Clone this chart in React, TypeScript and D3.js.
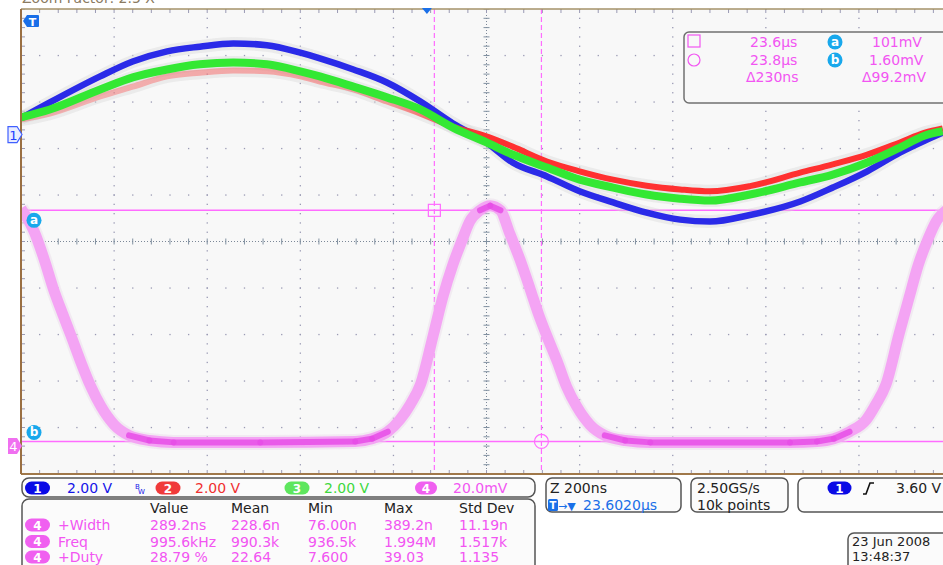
import React from 'react';
import * as d3 from 'd3';

// ---- data (screen divisions: time 0..10 at 200 ns/div, level -5..5) ----
const traceTimeDiv = [0, 0.31, 0.85, 1.2, 1.57, 1.92, 2.28, 2.64, 3.0, 3.21, 3.57, 3.93, 4.29, 4.64, 5.0, 5.28, 5.65, 6.0, 6.36, 6.72, 7.08, 7.4, 7.83, 8.37, 8.72, 9.09, 9.44, 9.71, 9.9];
const ch1Div = [2.65, 2.99, 3.55, 3.87, 4.09, 4.19, 4.26, 4.22, 4.06, 3.94, 3.7, 3.42, 3.01, 2.54, 2.13, 1.7, 1.4, 1.08, 0.84, 0.62, 0.47, 0.43, 0.57, 0.86, 1.16, 1.51, 1.91, 2.17, 2.34];
const ch2Div = [2.62, 2.75, 3.12, 3.33, 3.55, 3.63, 3.68, 3.66, 3.55, 3.44, 3.27, 3.01, 2.75, 2.47, 2.26, 2.04, 1.72, 1.51, 1.33, 1.2, 1.12, 1.08, 1.19, 1.48, 1.66, 1.87, 2.13, 2.34, 2.43];
const ch3Div = [2.67, 2.84, 3.27, 3.53, 3.7, 3.81, 3.85, 3.81, 3.66, 3.55, 3.33, 3.1, 2.84, 2.45, 2.13, 1.87, 1.59, 1.33, 1.16, 1.01, 0.92, 0.88, 1.01, 1.27, 1.44, 1.7, 2.02, 2.28, 2.37];
const ch4TimeDiv = [0, 0.14, 0.25, 0.35, 0.45, 0.54, 0.64, 0.75, 0.86, 1.0, 1.16, 1.38, 1.64, 2.57, 3.59, 3.77, 3.94, 4.07, 4.18, 4.29, 4.43, 4.53, 4.64, 4.74, 4.82, 4.93, 5.04, 5.15, 5.25, 5.36, 5.47, 5.56, 5.65, 5.76, 5.86, 5.97, 6.11, 6.27, 6.49, 6.76, 8.26, 8.55, 8.73, 8.9, 9.08, 9.18, 9.29, 9.43, 9.54, 9.64, 9.74, 9.83, 9.94];
const ch4Div = [0.71, 0.22, -0.39, -1.03, -1.57, -2.04, -2.58, -3.12, -3.55, -3.94, -4.17, -4.28, -4.32, -4.32, -4.3, -4.24, -4.09, -3.83, -3.51, -3.08, -2.0, -1.2, -0.49, 0.04, 0.43, 0.67, 0.77, 0.67, 0.17, -0.39, -1.03, -1.57, -2.04, -2.58, -3.12, -3.55, -3.94, -4.17, -4.28, -4.32, -4.32, -4.3, -4.24, -4.09, -3.83, -3.51, -3.08, -2.0, -1.2, -0.49, 0.04, 0.43, 0.67];

const cursorTimesDiv = [4.44, 5.59];
const cursorLevelsDiv = [0.67, -4.3];
const ch1GroundDiv = 2.3;
const ch4GroundDiv = -4.4;
const triggerPosDiv = 4.36;

const cursorTimeLabels = ['23.6µs', '23.8µs', 'Δ230ns'];
const cursorLevelLabels = ['101mV', '1.60mV', 'Δ99.2mV'];

const measHeaders = ['Value', 'Mean', 'Min', 'Max', 'Std Dev'];
const measNames = ['+Width', 'Freq', '+Duty'];
const measValue = ['289.2ns', '995.6kHz', '28.79 %'];
const measMean = ['228.6n', '990.3k', '22.64'];
const measMin = ['76.00n', '936.5k', '7.600'];
const measMax = ['389.2n', '1.994M', '39.03'];
const measStd = ['11.19n', '1.517k', '1.135'];

const chLabels = ['1', '2', '3', '4'];
const chScales = ['2.00 V', '2.00 V', '2.00 V', '20.0mV'];

const FONT = 'DejaVu Sans';
const MAG = '#f255f2';

export default function App() {
  const x = d3.scaleLinear().domain([0, 10]).range([21, 952]);
  const y = d3.scaleLinear().domain([-5, 5]).range([474, 9]);
  const line = d3
    .line<[number, number]>()
    .x((d) => x(d[0]))
    .y((d) => y(d[1]))
    .curve(d3.curveMonotoneX);

  const ch1 = traceTimeDiv.map((t, i) => [t, ch1Div[i]] as [number, number]);
  const ch2 = traceTimeDiv.map((t, i) => [t, ch2Div[i]] as [number, number]);
  const ch3 = traceTimeDiv.map((t, i) => [t, ch3Div[i]] as [number, number]);
  const ch4 = ch4TimeDiv.map((t, i) => [t, ch4Div[i]] as [number, number]);

  // flat parts of ch4 (drawn denser)
  const flatSegs: [number, number][][] = [];
  for (let i = 0; i < ch4.length - 1; i++) {
    const dx = x(ch4[i + 1][0]) - x(ch4[i][0]);
    const dy = y(ch4[i + 1][1]) - y(ch4[i][1]);
    if (Math.abs(dy / dx) < 0.6) flatSegs.push([ch4[i], ch4[i + 1]]);
  }
  const segLine = d3.line<[number, number]>().x((d) => x(d[0])).y((d) => y(d[1]));

  const minor = d3.range(0, 51).map((k) => k / 5);
  const dots: [number, number][] = [];
  for (let i = 0; i <= 10; i++) {
    if (i === 5) continue;
    minor.forEach((m) => dots.push([x(i), y(m - 5)]));
    minor.forEach((m) => dots.push([x(m), y(i - 5)]));
  }

  const x0 = x(0), x1 = x(10), yT = y(5), yB = y(-5), xc = x(5), yc = y(0);

  const colX = [150, 231, 308, 384, 459];
  const rowY = [530, 546.5, 562];
  const measCols = [measValue, measMean, measMin, measMax, measStd];

  const pill = (cx: number, cy: number, label: string, fill: string, w = 25) => (
    <g>
      <rect x={cx - w / 2} y={cy - 6.5} width={w} height={13} rx={6.5} fill={fill} />
      <text x={cx} y={cy + 4.5} textAnchor="middle" fill="#fff" fontSize={12} fontWeight="bold" fontFamily={FONT}>{label}</text>
    </g>
  );

  const chPill = [
    { px: 37.5, tx: 67, fill: '#0a0ae6', tc: '#1515e8' },
    { px: 168, tx: 195, fill: '#f03a3a', tc: '#f03030' },
    { px: 297, tx: 324, fill: '#5ee65e', tc: '#3ed83e' },
    { px: 426, tx: 453, fill: '#f060f0', tc: MAG },
  ];

  const cyanLabel = (cx: number, cy: number, t: string) => (
    <g>
      <circle cx={cx} cy={cy} r={7.5} fill="#18a8ec" />
      <text x={cx} y={cy + 4} textAnchor="middle" fill="#fff" fontSize={12} fontWeight="bold" fontFamily={FONT}>{t}</text>
    </g>
  );

  return (
    <svg width={943} height={565} style={{ position: 'absolute', left: 0, top: 0, background: '#fff' }} fontFamily={FONT}>
      <defs>
        <clipPath id="plot">
          <rect x={x0} y={yT} width={x1 - x0} height={yB - yT} />
        </clipPath>
        <linearGradient id="redfade" gradientUnits="userSpaceOnUse" x1={x0} x2={943} y1={0} y2={0}>
          <stop offset="0" stopColor="#ff3030" stopOpacity={0.3} />
          <stop offset="0.4" stopColor="#ff3030" stopOpacity={0.4} />
          <stop offset="0.5" stopColor="#ff3030" stopOpacity={1} />
          <stop offset="1" stopColor="#ff3030" stopOpacity={1} />
        </linearGradient>
      </defs>

      {/* cut-off title */}
      <text x={22} y={3} fontSize={14} fill="#8a7a60">Zoom Factor: 2.5 X</text>

      {/* plot background */}
      <rect x={x0} y={yT} width={x1 - x0} height={yB - yT} fill="#f8f8f8" />

      <g clipPath="url(#plot)">
        {/* grid dots */}
        {dots.map((d, i) => (
          <rect key={i} x={d[0] - 0.6} y={d[1] - 0.6} width={1.3} height={1.3} fill="#9a9ab4" />
        ))}
        {/* center lines */}
        <line x1={x0} x2={x1} y1={yc} y2={yc} stroke="#7c8898" strokeWidth={1} strokeDasharray="1,2" />
        <line x1={xc} x2={xc} y1={yT} y2={yB} stroke="#7c8898" strokeWidth={1} strokeDasharray="1,2" />
        {minor.map((m, i) => (
          <line key={'ht' + i} x1={x(m)} x2={x(m)} y1={yc - 3} y2={yc + 3} stroke="#8090a0" strokeWidth={1} />
        ))}
        {minor.map((m, i) => (
          <line key={'vt' + i} x1={xc - 3} x2={xc + 3} y1={y(m - 5)} y2={y(m - 5)} stroke="#8090a0" strokeWidth={1} />
        ))}
        {/* edge ticks */}
        {minor.map((m, i) => (
          <g key={'et' + i}>
            <line x1={x(m)} x2={x(m)} y1={yT} y2={yT + 4} stroke="#9a9ab4" strokeWidth={1} />
            <line x1={x(m)} x2={x(m)} y1={yB - 4} y2={yB} stroke="#9a9ab4" strokeWidth={1} />
            <line x1={x0} x2={x0 + 4} y1={y(m - 5)} y2={y(m - 5)} stroke="#9a9ab4" strokeWidth={1} />
          </g>
        ))}

        {/* cursors */}
        {cursorLevelsDiv.map((v, i) => (
          <line key={'cl' + i} x1={x0} x2={x1} y1={y(v)} y2={y(v)} stroke="#ff6cff" strokeWidth={1.5} />
        ))}
        {cursorTimesDiv.map((t, i) => (
          <line key={'ct' + i} x1={x(t)} x2={x(t)} y1={yT} y2={yB} stroke="#ff6cff" strokeWidth={1.2} strokeDasharray="5,3" />
        ))}

        {/* trace halos */}
        {[ch1, ch2, ch3].map((c, i) => (
          <path key={'h' + i} d={line(c) || ''} fill="none" stroke="#d8d8d8" strokeWidth={13} strokeOpacity={0.4} />
        ))}
        <path d={line(ch4) || ''} fill="none" stroke="#e8dae8" strokeWidth={15} strokeOpacity={0.45} />

        {/* traces */}
        <path d={line(ch1) || ''} fill="none" stroke="#2a2ae8" strokeWidth={6.5} />
        <path d={line(ch2) || ''} fill="none" stroke="url(#redfade)" strokeWidth={6} />
        <path d={line(ch3) || ''} fill="none" stroke="#33e833" strokeWidth={8} />
        <path d={line(ch4) || ''} fill="none" stroke="#f4a4f4" strokeWidth={11} />
        {flatSegs.map((s, i) => (
          <path key={'f' + i} d={segLine(s) || ''} fill="none" stroke="#e64ee6" strokeWidth={6} strokeLinecap="round" strokeOpacity={0.85} />
        ))}

        {/* cursor markers */}
        <rect x={x(cursorTimesDiv[0]) - 6} y={y(cursorLevelsDiv[0]) - 6} width={12} height={12} fill="none" stroke="#ff6cff" strokeWidth={1.2} />
        <circle cx={x(cursorTimesDiv[1])} cy={y(cursorLevelsDiv[1])} r={7} fill="none" stroke="#ff6cff" strokeWidth={1.2} />
      </g>

      {/* frame */}
      <line x1={x0} x2={943} y1={yT} y2={yT} stroke="#a49268" strokeWidth={1.5} />
      <line x1={x0} x2={943} y1={yB} y2={yB} stroke="#a0784a" strokeWidth={2} />
      <line x1={x0} x2={x0} y1={yT} y2={yB} stroke="#9a6f42" strokeWidth={2} />

      {/* trigger markers */}
      <path d={`M${x(triggerPosDiv) - 5},${yT - 1} L${x(triggerPosDiv) + 5},${yT - 1} L${x(triggerPosDiv)},${yT + 5} Z`} fill="#1a6fe8" />
      <path d="M23,21 L27,15 L38,15 Q39,15 39,16 L39,26 Q39,27 38,27 L27,27 Z" fill="#1a6fe8" />
      <text x={32.5} y={25.5} textAnchor="middle" fill="#fff" fontSize={11} fontWeight="bold">T</text>

      {/* channel ground markers */}
      <path d={`M8,${y(ch1GroundDiv) - 8} L17,${y(ch1GroundDiv) - 8} L22,${y(ch1GroundDiv)} L17,${y(ch1GroundDiv) + 8} L8,${y(ch1GroundDiv) + 8} Z`} fill="#e8ecff" stroke="#4060ff" strokeWidth={1.2} />
      <text x={13.5} y={y(ch1GroundDiv) + 5} textAnchor="middle" fill="#2040ff" fontSize={13}>1</text>
      <path d={`M8,${y(ch4GroundDiv) - 8} L17,${y(ch4GroundDiv) - 8} L22,${y(ch4GroundDiv)} L17,${y(ch4GroundDiv) + 8} L8,${y(ch4GroundDiv) + 8} Z`} fill="#f070f0" />
      <text x={13.5} y={y(ch4GroundDiv) + 5} textAnchor="middle" fill="#fff" fontSize={13}>4</text>

      {/* cursor labels */}
      {cyanLabel(34, y(cursorLevelsDiv[0]) + 10, 'a')}
      {cyanLabel(34, y(cursorLevelsDiv[1]) - 9, 'b')}

      {/* cursor readout */}
      <rect x={684} y={32} width={300} height={71} rx={5} fill="#f8f8f8" stroke="#707070" strokeWidth={1.5} />
      <rect x={688} y={35} width={12} height={12} fill="none" stroke={MAG} strokeWidth={1.2} />
      <circle cx={694} cy={60} r={6} fill="none" stroke={MAG} strokeWidth={1.2} />
      <text x={750} y={47} fontSize={14} fill={MAG}>{cursorTimeLabels[0]}</text>
      <text x={750} y={64.5} fontSize={14} fill={MAG}>{cursorTimeLabels[1]}</text>
      <text x={746} y={82} fontSize={14} fill={MAG}>{cursorTimeLabels[2]}</text>
      {cyanLabel(835, 42, 'a')}
      {cyanLabel(835, 60, 'b')}
      <text x={872} y={47} fontSize={14} fill={MAG}>{cursorLevelLabels[0]}</text>
      <text x={869} y={64.5} fontSize={14} fill={MAG}>{cursorLevelLabels[1]}</text>
      <text x={862} y={82} fontSize={14} fill={MAG}>{cursorLevelLabels[2]}</text>

      {/* channel bar */}
      <rect x={22} y={478} width={513} height={19} rx={7} fill="#fbfbfb" stroke="#555" strokeWidth={1.5} />
      {chPill.map((c, i) => (
        <g key={'cp' + i}>
          {pill(c.px, 488, chLabels[i], c.fill, i === 3 ? 22 : 25)}
          <text x={c.tx} y={493} fontSize={14} fill={c.tc}>{chScales[i]}</text>
        </g>
      ))}
      <text x={135} y={489} fontSize={7} fill="#1515e8">B</text>
      <text x={138} y={494} fontSize={7} fill="#1515e8">W</text>

      {/* measurements */}
      <rect x={22} y={499} width={513} height={90} rx={7} fill="#fbfbfb" stroke="#555" strokeWidth={1.5} />
      {measHeaders.map((h, i) => (
        <text key={'mh' + i} x={colX[i]} y={513} fontSize={14} fill="#222">{h}</text>
      ))}
      {measNames.map((n, r) => (
        <g key={'mr' + r}>
          {pill(37.5, rowY[r] - 5, '4', '#f060f0')}
          <text x={58} y={rowY[r]} fontSize={14} fill={MAG}>{n}</text>
          {measCols.map((col, c) => (
            <text key={c} x={colX[c]} y={rowY[r]} fontSize={14} fill={MAG}>{col[r]}</text>
          ))}
        </g>
      ))}

      {/* timebase */}
      <rect x={546} y={478} width={135} height={34} rx={6} fill="#fbfbfb" stroke="#555" strokeWidth={1.5} />
      <text x={550} y={493} fontSize={14} fill="#222">Z 200ns</text>
      <rect x={548} y={499} width={10} height={12} rx={1.5} fill="#1a6fe8" />
      <text x={553} y={509} textAnchor="middle" fontSize={10} fontWeight="bold" fill="#fff">T</text>
      <text x={558} y={510} fontSize={11} fill="#1a6fe8">→▼</text>
      <text x={583} y={510} fontSize={14} fill="#1a6fe8">23.6020µs</text>

      <rect x={691} y={478} width={97} height={34} rx={6} fill="#fbfbfb" stroke="#555" strokeWidth={1.5} />
      <text x={697} y={493} fontSize={14} fill="#222">2.50GS/s</text>
      <text x={697} y={510} fontSize={14} fill="#222">10k points</text>

      <rect x={798} y={478} width={170} height={34} rx={6} fill="#fbfbfb" stroke="#555" strokeWidth={1.5} />
      {pill(839.5, 488, '1', '#0a0ae6', 24)}
      <path d="M863,494 L866,494 L870,483 L874,483" fill="none" stroke="#111" strokeWidth={1.6} />
      <text x={896} y={493} fontSize={14} fill="#222">3.60 V</text>

      <rect x={848} y={533} width={120} height={45} rx={6} fill="#fbfbfb" stroke="#555" strokeWidth={1.5} />
      <text x={852} y={546} fontSize={13} fill="#222">23 Jun  2008</text>
      <text x={852} y={561} fontSize={13} fill="#222">13:48:37</text>
    </svg>
  );
}
